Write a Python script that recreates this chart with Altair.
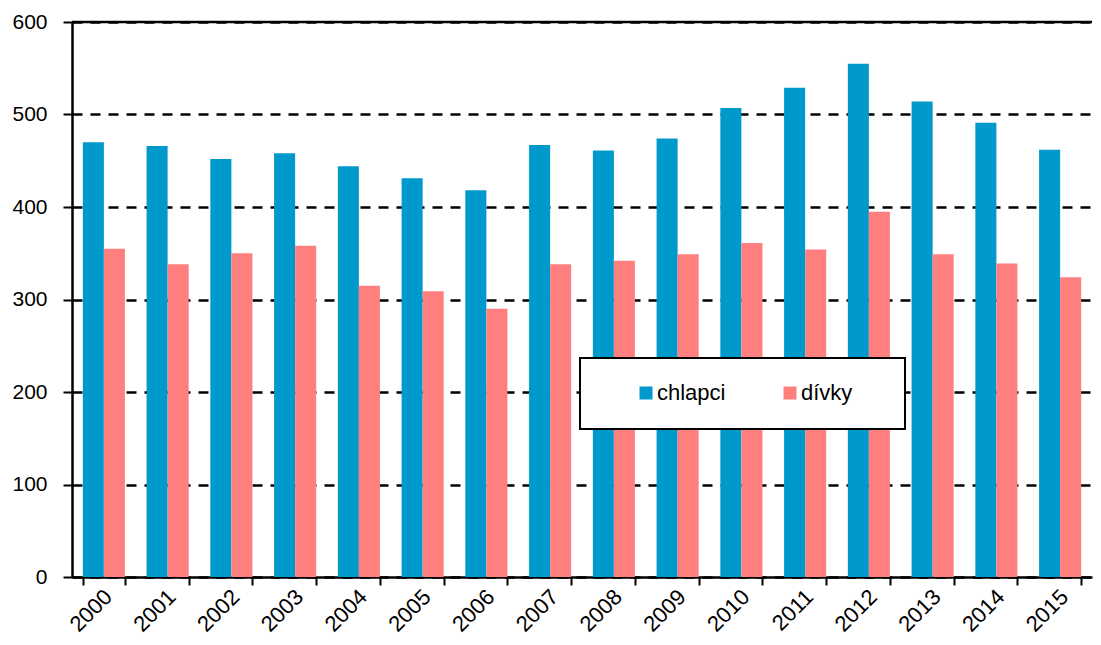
import altair as alt
import pandas as pd

years = [str(y) for y in range(2000, 2016)]
chlapci = [470, 466, 452, 458, 444, 431, 418, 467, 461, 474, 507, 529, 555, 514, 491, 462]
divky = [355, 338, 350, 358, 315, 309, 290, 338, 342, 349, 361, 354, 395, 349, 339, 324]
series = ["chlapci", "dívky"]
colors = ["#0099CC", "#FF7F7F"]
y_ticks = [0, 100, 200, 300, 400, 500, 600]

rows = []
for i, yr in enumerate(years):
    rows.append({"rok": yr, "pohlaví": series[0], "počet": chlapci[i]})
    rows.append({"rok": yr, "pohlaví": series[1], "počet": divky[i]})
df = pd.DataFrame(rows)

FONT = "Liberation Sans, Arial"

bars = alt.Chart(df).mark_bar().encode(
    x=alt.X(
        "rok:N", sort=years,
        scale=alt.Scale(paddingInner=0.34, paddingOuter=0.17),
        axis=alt.Axis(
            title=None, labelAngle=-45, labelAlign="right", labelBaseline="middle",
            labelFont=FONT, labelFontSize=22, labelColor="black", labelPadding=8,
            labelOffset=4,
            tickBand="extent", ticks=True, tickSize=8, tickColor="black", tickWidth=2,
            domainColor="black", domainWidth=2.5, grid=False,
        ),
    ),
    xOffset=alt.XOffset("pohlaví:N", sort=series,
                        scale=alt.Scale(paddingInner=0, paddingOuter=0)),
    y=alt.Y(
        "počet:Q",
        scale=alt.Scale(domain=[0, 600], nice=False),
        axis=alt.Axis(
            title=None, values=y_ticks, labelFont=FONT, labelFontSize=21,
            labelColor="black", labelPadding=16, tickSize=9, tickColor="black",
            tickWidth=2, domainColor="black", domainWidth=2.5,
            grid=True, gridColor="black", gridDash=[10, 8], gridWidth=2.5,
        ),
    ),
    color=alt.Color(
        "pohlaví:N",
        scale=alt.Scale(domain=series, range=colors),
        legend=alt.Legend(
            title=None, orient="none", direction="horizontal",
            legendX=563, legendY=360, padding=0,
            symbolType="square", symbolSize=169, symbolStrokeWidth=0,
            labelFont=FONT, labelFontSize=22, labelColor="black",
            labelOffset=0, columnPadding=53,
        ),
    ),
)

top_rule = alt.Chart(pd.DataFrame({"v": [600]})).mark_rule(
    color="black", strokeWidth=2.5
).encode(y="v:Q")

legend_box = alt.Chart(pd.DataFrame({"a": [0]})).mark_rect(
    fill="white", stroke="black", strokeWidth=2
).encode(x=alt.value(508), x2=alt.value(833), y=alt.value(336), y2=alt.value(407))

chart = alt.layer(bars, top_rule, legend_box).properties(
    width=1020, height=555,
    autosize=alt.AutoSizeParams(type="none"),
    padding={"left": 64, "top": 14, "right": 1, "bottom": 60},
).configure_view(stroke=None)

chart.save("out.html", embed_options={"renderer": "svg", "actions": False})
